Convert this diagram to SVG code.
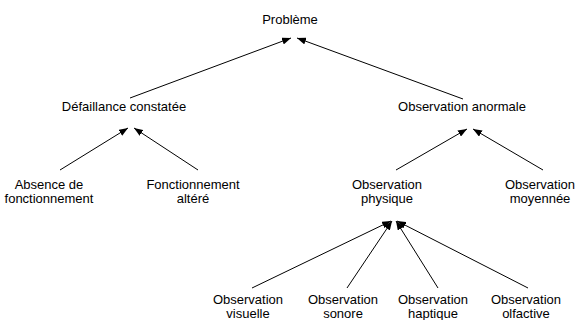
<svg xmlns="http://www.w3.org/2000/svg" width="575" height="320" viewBox="0 0 575 320">
<defs>
<marker id="ah" markerUnits="userSpaceOnUse" markerWidth="9" markerHeight="7" refX="9" refY="3.5" orient="auto">
<path d="M0,0 L9,3.5 L0,7 z" fill="#000"/>
</marker>
<style>
text{font-family:"Liberation Sans",Arial,sans-serif;font-size:13px;fill:#000;text-anchor:middle}
.c line{stroke:#000;stroke-width:1;marker-end:url(#ah)}
</style>
</defs>
<rect width="575" height="320" fill="#fff"/>
<g class="c" id="connectors">
<line x1="130" y1="98" x2="291" y2="38"/>
<line x1="463" y1="99" x2="297" y2="38"/>
<line x1="60" y1="170" x2="128" y2="128"/>
<line x1="198" y1="170" x2="134" y2="128"/>
<line x1="396" y1="170" x2="467" y2="129"/>
<line x1="543" y1="170" x2="473" y2="129"/>
<line x1="252" y1="288" x2="391" y2="221"/>
<line x1="347" y1="288" x2="392" y2="221"/>
<line x1="438" y1="288" x2="396" y2="221"/>
<line x1="528" y1="288" x2="397" y2="221"/>
</g>
<g id="probleme"><text x="290" y="24">Problème</text></g>
<g id="defaillance"><text x="124" y="111">Défaillance constatée</text></g>
<g id="anormale"><text x="462" y="111">Observation anormale</text></g>
<g id="absence"><text x="49" y="189">Absence de</text><text x="49" y="203">fonctionnement</text></g>
<g id="altere"><text x="193" y="189">Fonctionnement</text><text x="193" y="203">altéré</text></g>
<g id="physique"><text x="387" y="189">Observation</text><text x="387" y="203">physique</text></g>
<g id="moyennee"><text x="540" y="189">Observation</text><text x="540" y="203">moyennée</text></g>
<g id="visuelle"><text x="248" y="304">Observation</text><text x="248" y="318">visuelle</text></g>
<g id="sonore"><text x="343" y="304">Observation</text><text x="343" y="318">sonore</text></g>
<g id="haptique"><text x="433" y="304">Observation</text><text x="433" y="318">haptique</text></g>
<g id="olfactive"><text x="526" y="304">Observation</text><text x="526" y="318">olfactive</text></g>
</svg>
